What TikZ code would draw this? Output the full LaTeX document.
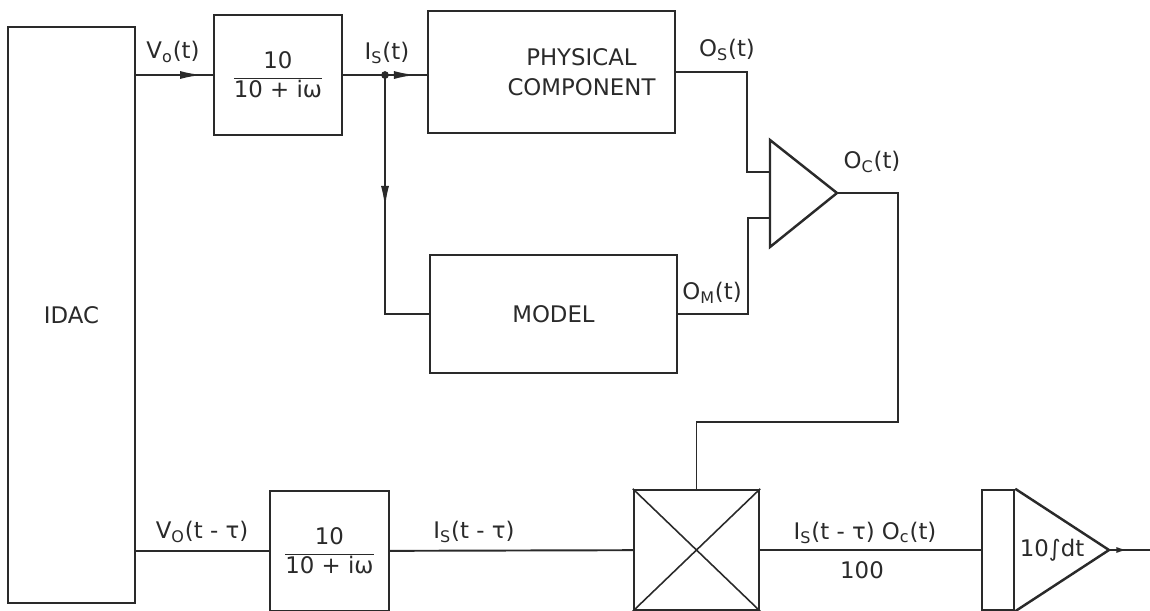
\documentclass[tikz,border=0pt]{standalone}
\usepackage{fontspec}
\setmainfont{DejaVu Sans}
\usetikzlibrary{arrows.meta,calc,positioning,decorations.markings}
\definecolor{ink}{HTML}{2A2A2A}
\tikzset{>=Latex,line width=1.1pt,draw=ink,
  every node/.style={font=\fontsize{13}{15}\selectfont,text=ink},
  block/.style={draw=ink,line width=1.4pt,inner sep=0pt},
  wire/.style={draw=ink,line width=1.1pt},
  flow/.style={postaction={decorate},decoration={markings,
    mark=at position #1 with {\arrow{Latex[length=0.44cm,width=0.16cm]}}}},
  tinyflow/.style={postaction={decorate},decoration={markings,
    mark=at position #1 with {\arrow{Latex[length=0.22cm,width=0.12cm]}}}},
  sig/.style={inner sep=1pt}}
\newcommand{\gainfrac}[2]{$\displaystyle\frac{\mbox{#1}}{\mbox{#2}}$}

\begin{document}
\begin{tikzpicture}[x=0.02cm,y=-0.02cm]
\useasboundingbox(0,0)rectangle(1150,610);
\node[block,minimum width=2.54cm,minimum height=11.52cm](idac)at(71.5,315){IDAC};
\node[block,minimum width=2.56cm,minimum height=2.4cm](filt1)at(278,75){\gainfrac{10}{10 + iω}};
\node[block,minimum width=4.94cm,minimum height=2.44cm,
  label={[xshift=0.6cm,align=center]center:PHYSICAL\\[2pt]COMPONENT}](phys)at(551.5,72){};
\node[block,minimum width=4.94cm,minimum height=2.36cm](model)at(553.5,314){MODEL};
\node[block,minimum width=2.38cm,minimum height=2.4cm](filt2)at(329.5,551){\gainfrac{10}{10 + iω}};
\node[block,minimum width=2.5cm,minimum height=2.4cm](mult)at(696.5,550){};
\node[block,minimum width=0.64cm,minimum height=2.4cm](integ)at(998,550){};
\coordinate(cmpT)at(770,140);\coordinate(cmpB)at(770,247);\coordinate(tip)at(837,193);
\coordinate(in1)at(770,172);\coordinate(in2)at(770,218);
\coordinate(jn)at(385,75);\coordinate(bend)at(898,422);
\coordinate(itip)at(1109,550);\coordinate(out)at(1150,550);
\draw[block](cmpT)--(cmpB)--(tip)--cycle;
\draw[block](integ.north east)--(itip)--(integ.south east);
\draw[wire,line width=0.9pt](mult.north west)--(mult.south east)(mult.north east)--(mult.south west);
\node(int)at(1052,550){10∫dt};
\draw[wire,flow=0.86](filt1.west-|idac.east)--(filt1.west);
\draw[wire,flow=0.87](filt1.east)--(filt1.east-|phys.west);
\fill[ink](jn)circle(2.2pt);
\draw[wire,flow=0.47](jn)|-(model.west);
\draw[wire](phys.east)-|([xshift=-0.46cm]in1)--(in1);
\draw[wire](model.east)-|([xshift=-0.44cm]in2)--(in2);
\draw[wire](tip)-|(bend)-|(mult.north);
\draw[wire](filt2.west-|idac.east)--(filt2.west);
\draw[wire](filt2)--(mult);
\draw[wire](mult)--(integ);
\draw[wire,tinyflow=0.45](itip)--(out);
\node[sig](vo)at(173,52){V\textsubscript{o}(t)};
\node[sig](is)at(387,53){I\textsubscript{S}(t)};
\node[sig](os)at(727,50){O\textsubscript{S}(t)};
\node[sig](oc)at(872,162){O\textsubscript{C}(t)};
\node[sig](om)at(712,293){O\textsubscript{M}(t)};
\node[sig](vod)at(202,532){V\textsubscript{O}(t - τ)};
\node[sig](isd)at(474,532){I\textsubscript{S}(t - τ)};
\node[sig](prod)at(865,533){I\textsubscript{S}(t - τ) O\textsubscript{c}(t)};
\node[sig](hund)at(862,570){100};
\end{tikzpicture}
\end{document}
